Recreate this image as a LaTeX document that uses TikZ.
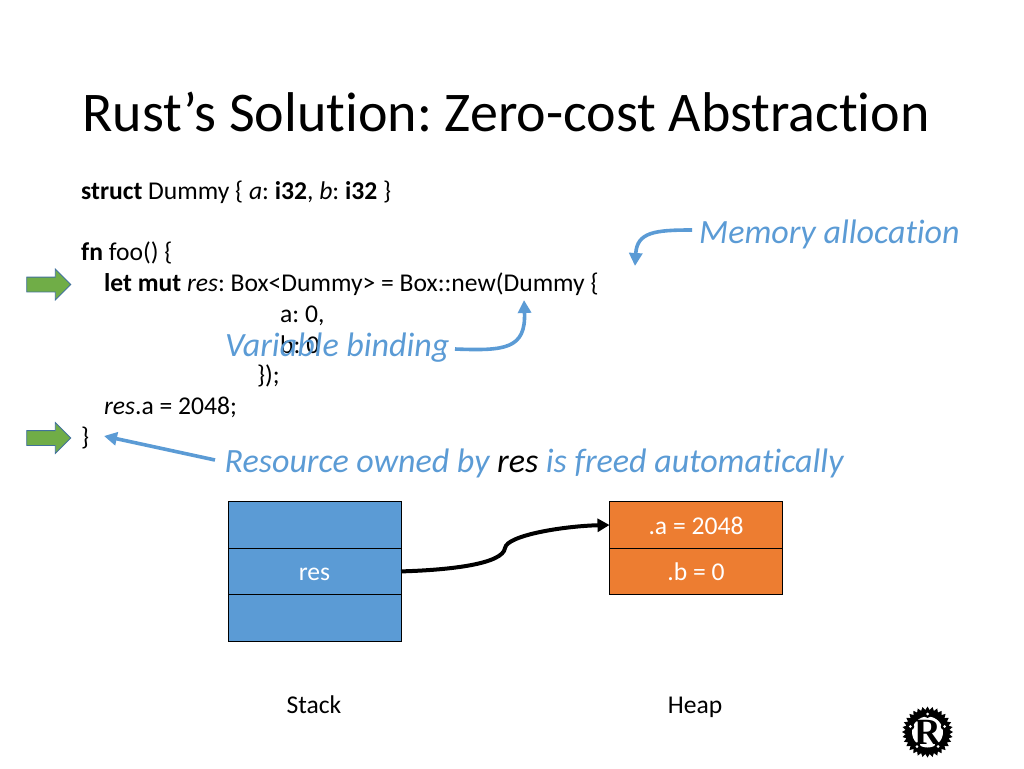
\documentclass[tikz,border=0pt]{standalone}
\usepackage{fontspec}
\setmainfont[Ligatures=NoCommon]{Carlito}
\newfontfamily\logofont{Liberation Serif}
\usepackage{xcolor}
\usepackage{tikz}
\usetikzlibrary{positioning}
\usetikzlibrary{arrows.meta}
\usetikzlibrary{shapes.arrows}
\usetikzlibrary{shapes.geometric}
\frenchspacing
\definecolor{noteblue}{HTML}{5B9BD5}
\definecolor{heaporange}{HTML}{ED7D31}
\definecolor{markgreen}{HTML}{70AD47}
\definecolor{markedge}{HTML}{41719C}
\tikzset{
    code/.style={anchor=base west, inner sep=0pt, font=\fontsize{25.6pt}{25.6pt}\selectfont},
    note/.style={anchor=base west, inner sep=0pt, text=noteblue, font=\fontsize{34pt}{34pt}\selectfont\itshape},
    caption/.style={anchor=base, inner sep=0pt, font=\fontsize{25.6pt}{25.6pt}\selectfont},
    cell/.style={draw=black, line width=1pt, outer sep=0pt, minimum width=173pt, minimum height=46.4pt, inner sep=0pt, text height=22pt, text depth=4pt, text=white, font=\fontsize{25.6pt}{25.6pt}\selectfont},
    stackcell/.style={cell, fill=noteblue},
    heapcell/.style={cell, fill=heaporange},
    marker/.style={single arrow, draw=markedge, fill=markgreen, line width=0.8pt, inner xsep=0pt, inner ysep=7pt, minimum height=44pt, single arrow head extend=8pt, single arrow head indent=0pt},
    notearrow/.style={draw=noteblue, line width=3.6pt, -{Triangle[length=13pt,width=13pt]}},
}
\begin{document}
\begin{tikzpicture}[x=1pt, y=-1pt]
    \useasboundingbox (0,0) rectangle (1024,768);
    \node[anchor=base west, inner sep=0pt, font=\fontsize{56pt}{56pt}\selectfont] (title) at (82,131) {Rust's Solution: Zero-cost Abstraction};

    \node[code] (lstruct) at (81,199) {\textbf{struct} Dummy \{ \textit{a}: \textbf{i32}, \textit{b}: \textbf{i32} \}};
    \node[code] (lfn) at (81,260) {\textbf{fn} foo() \{};
    \node[code] (llet) at (104,291) {\textbf{let mut} \textit{res}: Box<Dummy> = Box::new(Dummy \{};
    \node[code] (la) at (280,322) {a: 0,};
    \node[code] (lb) at (280,353) {b: 0};
    \node[code] (lclose) at (257,383) {\});};
    \node[code] (lres) at (104,414) {\textit{res}.a = 2048;};
    \node[code] (lend) at (81,445) {\}};

    \node[marker] (markone) at (45,284.5) {};
    \node[marker] (marktwo) at (45,438) {};

    \node[note] (memnote) at (699,243) {Memory allocation};
    \node[note] (varnote) at (225,356) {Variable binding};
    \node[note] (resnote) at (224.5,472) {Resource owned by \textcolor{black}{res} is freed automatically};

    \coordinate (memstart) at (692,230);
    \coordinate (memend) at (635,266);
    \coordinate (varstart) at (455,349);
    \coordinate (varend) at (524,300);
    \coordinate (resstart) at (215,460);
    \coordinate (resend) at (104,436);

    \draw[notearrow] (memstart) .. controls (655,230) and (637,232) .. (memend);
    \draw[notearrow] (varstart) .. controls (505,351) and (526,349) .. (varend);
    \draw[notearrow] (resstart) -- (resend);

    \node[stackcell] (stacktop) at (314.5,525) {};
    \node[stackcell, below=0pt of stacktop] (stackres) {res};
    \node[stackcell, below=0pt of stackres] (stackbot) {};

    \node[heapcell] (heapa) at (696,525) {.a = 2048};
    \node[heapcell, below=0pt of heapa] (heapb) {.b = 0};

    \node[caption] (stacklabel) at (314,713) {Stack};
    \node[caption] (heaplabel) at (695,713) {Heap};

    \coordinate (bend) at (505,548);
    \draw[line width=4pt, -{Triangle[length=12pt,width=13pt]}] (stackres.east) .. controls (450,570) and (503,564) .. (bend)
        .. controls (507,535) and (565,526) .. (heapa.west);

    \node[star, star points=32, star point ratio=1.16, fill=black, inner sep=0pt, minimum size=51pt] (gear) at (927.5,732) {};
    \node[circle, fill=white, inner sep=0pt, minimum size=31pt] (hub) at (gear.center) {};
    \foreach \ang in {90,162,234,306,18} {
        \fill[black] (gear.center) ++(\ang:17.5pt) circle (3.4pt);
        \fill[white] (gear.center) ++(\ang:18pt) circle (1.5pt);
    }
    \node[inner sep=0pt, font=\logofont\bfseries\fontsize{37pt}{37pt}\selectfont] (logoR) at (gear.center) {R};
\end{tikzpicture}
\end{document}
